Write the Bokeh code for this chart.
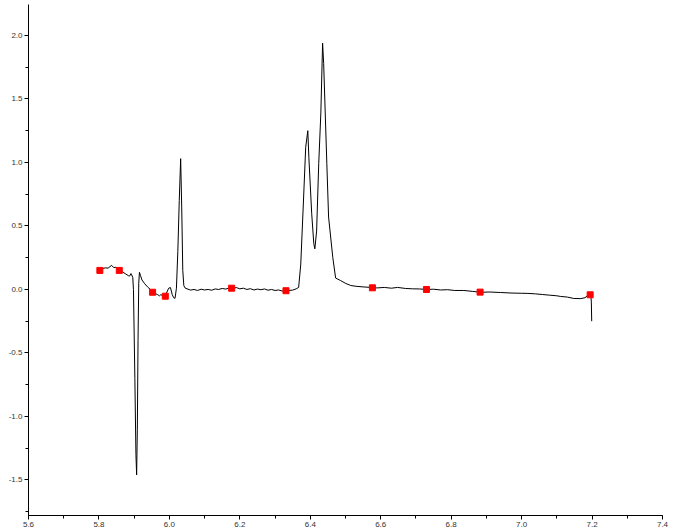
from bokeh.plotting import figure
from bokeh.models import SingleIntervalTicker, PrintfTickFormatter, Range1d
from bokeh.embed import file_html
from bokeh.resources import INLINE

# trace (x, y)
trace_x = [5.795, 5.802, 5.810, 5.819, 5.826, 5.836, 5.842, 5.848, 5.853, 5.859,
           5.866, 5.876, 5.884, 5.887, 5.891, 5.893, 5.896, 5.898, 5.902, 5.905,
           5.907, 5.909, 5.911, 5.913, 5.915, 5.918, 5.922, 5.930, 5.938, 5.946,
           5.952, 5.958, 5.966, 5.972, 5.976, 5.983, 5.988, 5.993, 5.998, 6.003,
           6.008, 6.012, 6.016, 6.020, 6.024, 6.028, 6.032, 6.035, 6.038, 6.041,
           6.045, 6.050, 6.060, 6.070, 6.080, 6.090, 6.100, 6.110, 6.120, 6.130,
           6.140, 6.150, 6.160, 6.170, 6.180, 6.190, 6.200, 6.210, 6.220, 6.230,
           6.240, 6.250, 6.260, 6.270, 6.280, 6.290, 6.300, 6.310, 6.320, 6.330,
           6.340, 6.350, 6.360, 6.367, 6.373, 6.381, 6.387, 6.393, 6.396, 6.404,
           6.410, 6.413, 6.418, 6.424, 6.430, 6.435, 6.438, 6.447, 6.452, 6.464,
           6.472, 6.486, 6.501, 6.515, 6.530, 6.550, 6.572, 6.590, 6.610, 6.630,
           6.648, 6.670, 6.690, 6.710, 6.731, 6.750, 6.770, 6.790, 6.810, 6.836,
           6.860, 6.884, 6.910, 6.940, 6.970, 7.000, 7.018, 7.040, 7.060, 7.080,
           7.100, 7.111, 7.130, 7.148, 7.168, 7.180, 7.191, 7.196, 7.198, 7.199]
trace_y = [0.150, 0.155, 0.165, 0.170, 0.168, 0.190, 0.172, 0.175, 0.165, 0.150,
           0.140, 0.122, 0.108, 0.105, 0.125, 0.115, 0.095, 0.00, -0.70, -1.30,
           -1.46, -1.10, -0.40, 0.05, 0.135, 0.110, 0.075, 0.045, 0.020, 0.000,
           -0.022, -0.030, -0.040, -0.050, -0.040, -0.055, -0.052, -0.020, 0.010, 0.015,
           -0.040, -0.065, -0.070, 0.010, 0.300, 0.700, 1.030, 0.650, 0.150, 0.030,
           0.010, 0.005, -0.005, 0.000, -0.008, 0.002, -0.004, 0.000, -0.006, 0.004,
           0.000, 0.008, 0.003, 0.012, 0.008, 0.015, 0.005, 0.010, 0.000, 0.006,
           -0.004, 0.003, -0.002, 0.004, -0.006, 0.000, -0.008, -0.004, -0.012, -0.016,
           -0.008, -0.005, 0.005, 0.016, 0.200, 0.720, 1.120, 1.250, 1.040, 0.600,
           0.360, 0.320, 0.460, 0.990, 1.390, 1.940, 1.780, 0.990, 0.570, 0.250,
           0.090, 0.070, 0.047, 0.031, 0.025, 0.020, 0.016, 0.012, 0.016, 0.010,
           0.016, 0.008, 0.005, 0.004, 0.000, 0.002, -0.004, -0.002, -0.008, -0.008,
           -0.015, -0.022, -0.020, -0.024, -0.028, -0.030, -0.031, -0.035, -0.040, -0.045,
           -0.050, -0.055, -0.060, -0.071, -0.072, -0.065, -0.040, -0.030, -0.100, -0.250]

# red markers
marker_x = [5.8026, 5.8577, 5.9523, 5.9884, 6.1767, 6.331, 6.5764, 6.7298, 6.8821, 7.1946]
marker_y = [0.150, 0.150, -0.022, -0.053, 0.010, -0.010, 0.013, 0.000, -0.021, -0.042]

p = figure(width=670, height=530, output_backend="svg", toolbar_location=None,
           x_range=Range1d(5.6, 7.4), y_range=Range1d(-1.78, 2.244),
           min_border_left=28, min_border_right=8, min_border_top=4, min_border_bottom=15)
p.outline_line_color = None
p.grid.visible = False
p.background_fill_color = "white"
p.border_fill_color = "white"

p.line(trace_x, trace_y, line_color="black", line_width=1)
p.scatter(marker_x, marker_y, marker="square", size=6, fill_color="#ff0000", line_color="#ff0000")

p.xaxis.ticker = SingleIntervalTicker(interval=0.2, num_minor_ticks=2)
p.yaxis.ticker = SingleIntervalTicker(interval=0.5, num_minor_ticks=2)
for ax in (p.xaxis[0], p.yaxis[0]):
    ax.formatter = PrintfTickFormatter(format="%.1f")
    ax.axis_line_color = "black"
    ax.axis_line_width = 1
    ax.major_tick_in = 0
    ax.major_tick_out = 4
    ax.minor_tick_in = 0
    ax.minor_tick_out = 3
    ax.major_tick_line_color = "black"
    ax.minor_tick_line_color = "black"
    ax.major_label_text_font = "Liberation Sans"
    ax.major_label_text_font_size = "8px"
    ax.major_label_text_color = "#333333"
    ax.major_label_standoff = 2

open("out.html", "w").write(file_html(p, INLINE))
